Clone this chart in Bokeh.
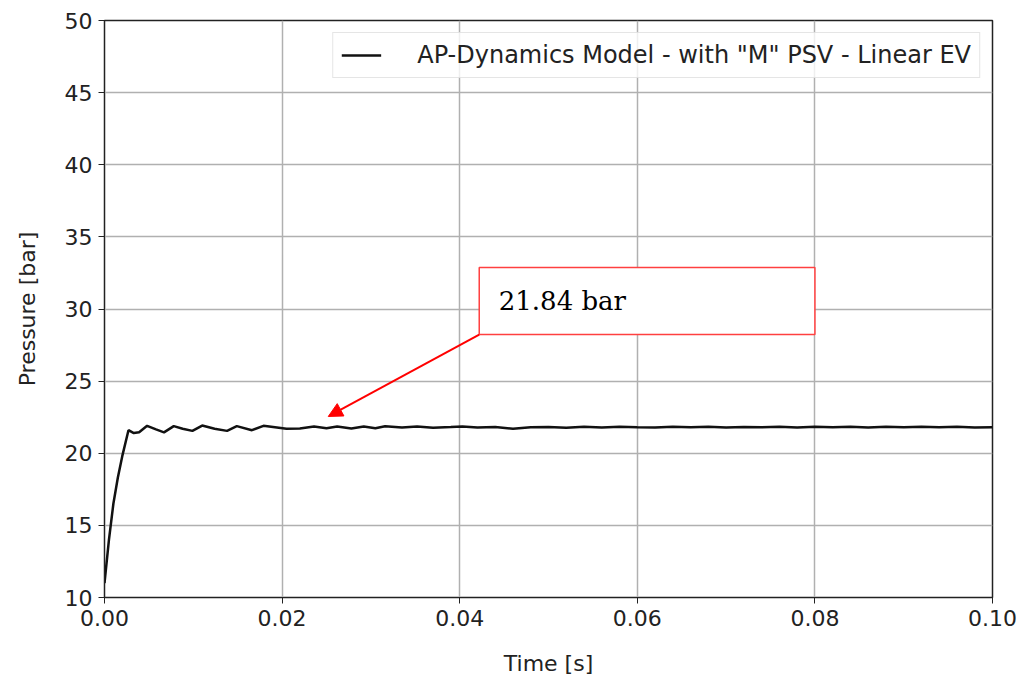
from bokeh.plotting import figure
from bokeh.models import (FixedTicker, NumeralTickFormatter, BoxAnnotation, Arrow,
                          NormalHead, Label, Legend, LegendItem)
from bokeh.embed import file_html
from bokeh.resources import INLINE

# ---- data ----
time_s = [0.0, 0.0005, 0.001, 0.0015, 0.002, 0.0027, 0.0033, 0.0039, 0.0048, 0.0058,
          0.0067, 0.0078, 0.0088, 0.0099, 0.011, 0.0124, 0.0138, 0.0149, 0.0166, 0.0179,
          0.0192, 0.0205, 0.022, 0.0236, 0.025, 0.0262, 0.0278, 0.0292, 0.0305, 0.0316,
          0.0335, 0.0352, 0.037, 0.039, 0.0403, 0.042, 0.044, 0.046, 0.048, 0.05,
          0.052, 0.054, 0.056, 0.058, 0.06, 0.062, 0.064, 0.066, 0.068, 0.07,
          0.072, 0.074, 0.076, 0.078, 0.08, 0.082, 0.084, 0.086, 0.088, 0.09,
          0.092, 0.094, 0.096, 0.098, 0.1]
pressure_bar = [11.0, 14.0, 16.5, 18.3, 19.8, 21.6, 21.4, 21.45, 21.9, 21.65,
                21.45, 21.88, 21.7, 21.55, 21.92, 21.7, 21.55, 21.88, 21.6, 21.9,
                21.8, 21.7, 21.72, 21.85, 21.74, 21.85, 21.72, 21.85, 21.74, 21.87,
                21.78, 21.85, 21.76, 21.82, 21.86, 21.78, 21.82, 21.7, 21.8, 21.82,
                21.76, 21.84, 21.78, 21.83, 21.8, 21.78, 21.84, 21.8, 21.84, 21.78,
                21.82, 21.8, 21.84, 21.79, 21.83, 21.8, 21.84, 21.79, 21.83, 21.8,
                21.84, 21.8, 21.83, 21.79, 21.8]
series_label = 'AP-Dynamics Model - with "M" PSV - Linear EV'
x_ticks = [0.0, 0.02, 0.04, 0.06, 0.08, 0.1]
y_ticks = [10, 15, 20, 25, 30, 35, 40, 45, 50]
note_text = "21.84 bar"
note_target = (0.0252, 22.55)

p = figure(width=1019, height=685, output_backend="svg", toolbar_location=None,
           x_range=(0, 0.1), y_range=(10, 50),
           frame_width=888, frame_height=577,
           min_border_left=104, min_border_right=27, min_border_top=20, min_border_bottom=88)

p.background_fill_color = "white"
p.border_fill_color = "white"
p.outline_line_color = "#222222"
p.outline_line_width = 1.5

r = p.line(time_s, pressure_bar, line_color="#111111", line_width=2.5)

for ax in (p.xaxis, p.yaxis):
    ax.axis_line_color = "#222222"
    ax.major_tick_line_color = "#222222"
    ax.major_tick_out = 6
    ax.major_tick_in = 0
    ax.minor_tick_line_color = None
    ax.major_label_text_font = "DejaVu Sans"
    ax.major_label_text_font_size = "22px"
    ax.major_label_text_color = "#222222"
    ax.axis_label_text_font = "DejaVu Sans"
    ax.axis_label_text_font_size = "22px"
    ax.axis_label_text_font_style = "normal"
    ax.axis_label_text_color = "#222222"

p.xaxis.ticker = FixedTicker(ticks=x_ticks)
p.xaxis.formatter = NumeralTickFormatter(format="0.00")
p.yaxis.ticker = FixedTicker(ticks=y_ticks)
p.xaxis.axis_label = "Time [s]"
p.yaxis.axis_label = "Pressure [bar]"
p.xaxis.major_label_standoff = 6
p.yaxis.major_label_standoff = 6
p.xaxis.axis_label_standoff = 22
p.yaxis.axis_label_standoff = 22

p.xgrid.grid_line_color = "#b0b0b0"
p.ygrid.grid_line_color = "#b0b0b0"
p.xgrid.grid_line_width = 1.5
p.ygrid.grid_line_width = 1.5

legend = Legend(items=[LegendItem(label=series_label, renderers=[r])],
                location="top_right")
legend.label_text_font = "DejaVu Sans"
legend.label_text_font_size = "24px"
legend.label_text_color = "#222222"
legend.glyph_width = 40
legend.glyph_height = 28
legend.border_line_color = "#cccccc"
legend.border_line_width = 1.5
legend.background_fill_alpha = 0.8
legend.margin = 12
legend.padding = 8
legend.label_standoff = 36
p.add_layout(legend)

box = BoxAnnotation(left=0.0422, right=0.0800, top=32.88, bottom=28.23,
                    fill_color="white", fill_alpha=1.0,
                    line_color="#ff4040", line_alpha=1.0, line_width=1.5)
p.add_layout(box)

p.add_layout(Label(x=0.0444, y=30.55, text=note_text, text_font="DejaVu Serif",
                   text_font_size="26px", text_color="black", text_baseline="middle"))

p.add_layout(Arrow(x_start=0.0422, y_start=28.23, x_end=note_target[0], y_end=note_target[1],
                   line_color="red", line_width=2,
                   end=NormalHead(size=14, fill_color="red", line_color="red")))

open("out.html", "w").write(file_html(p, INLINE))
